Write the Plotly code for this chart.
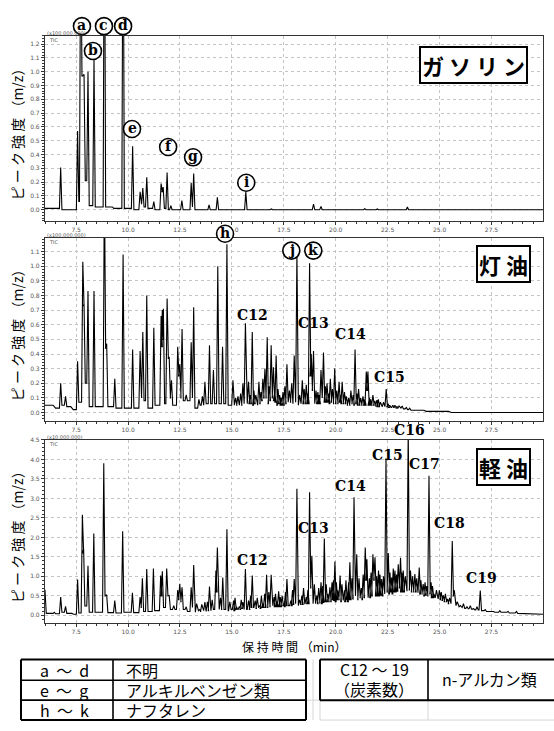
import plotly.graph_objects as go

W, H = 554, 731

# ---------------- chromatogram data (retention time [min], intensity, valley level after peak)
GAS_START, GAS_END = 0.01, 0.0
GAS_T = [6.755, 7.57, 7.72, 7.88, 8.07, 8.36, 8.86, 9.25, 9.76, 10.22, 10.58, 10.71, 10.90,
         11.24, 11.59, 11.69, 11.88, 12.06, 12.59, 13.04, 13.16, 13.90, 14.30, 15.67, 16.9,
         18.93, 19.29, 21.4, 22.0, 23.45]
GAS_H = [0.306, 0.571, 2.2, 0.98, 1.00, 1.09, 2.6, 0.02, 2.6, 0.46, 0.13, 0.157, 0.236,
         0.06, 0.19, 0.164, 0.27, 0.03, 0.067, 0.193, 0.263, 0.036, 0.09, 0.128, 0.006,
         0.04, 0.025, 0.008, 0.006, 0.02]
GAS_V = [0.0, 0.06, 0.97, 0.21, 0.03, 0.02, 0.02, 0.01, 0.01, 0.0, 0.04, 0.02, 0.01,
         0.0, 0.13, 0.01, 0.0, 0.0, 0.0, 0.02, 0.0, 0.0, 0.0, 0.0, 0.0,
         0.0, 0.0, 0.0, 0.0, 0.0]

KER_START, KER_END = 0.05, 0.0
KER_T = [6.45, 6.755, 6.99, 7.30, 7.57, 7.82, 7.88, 8.07, 8.36, 8.86, 8.97, 9.36, 9.76,
         10.22, 10.58, 10.71, 10.90, 11.24, 11.59, 11.65, 11.70, 11.88, 11.98, 12.09,
         12.39, 12.49, 12.60, 12.80, 13.04, 13.16, 13.41, 13.58, 13.70, 13.92, 14.11,
         14.32, 14.55, 14.76, 15.05, 15.29, 15.53, 15.65, 15.80, 15.98, 16.15, 16.30,
         16.49, 16.59, 16.70, 16.89, 17.00, 17.13, 17.30, 17.46, 17.65, 17.77, 18.00,
         18.13, 18.26, 18.39, 18.58, 18.74, 18.82, 18.93, 19.14, 19.29, 19.41, 19.58,
         19.74, 19.95, 20.16, 20.31, 20.51, 20.73, 20.93, 21.10, 21.31, 21.47, 21.55,
         21.68, 21.79, 21.98, 22.15, 22.43, 22.60, 22.75, 22.95, 23.20, 23.40, 23.56,
         24.3, 25.5]
KER_H = [0.04, 0.20, 0.11, 0.03, 0.35, 1.03, 0.74, 0.83, 0.83, 1.6, 0.47, 0.23, 1.08,
         0.43, 0.42, 0.55, 0.80, 0.58, 0.66, 0.70, 0.71, 0.78, 0.38, 0.22,
         0.45, 0.33, 0.57, 0.12, 0.48, 0.72, 0.09, 0.11, 0.21, 0.46, 0.29,
         1.00, 0.45, 1.15, 0.22, 0.11, 0.20, 0.61, 0.21, 0.55, 0.12, 0.21,
         0.23, 0.30, 0.515, 0.46, 0.31, 0.39, 0.12, 0.14, 0.33, 0.15, 0.39,
         1.09, 0.12, 0.22, 0.19, 1.02, 0.40, 0.42, 0.14, 0.29, 0.41, 0.20,
         0.23, 0.30, 0.21, 0.21, 0.11, 0.15, 0.43, 0.16, 0.11, 0.28, 0.28,
         0.09, 0.12, 0.085, 0.07, 0.16, 0.05, 0.05, 0.04, 0.045, 0.035, 0.03,
         0.012, 0.004]
KER_V = [0.03, 0.05, 0.04, 0.02, 0.07, 0.73, 0.20, 0.04, 0.04, 0.44, 0.04, 0.03, 0.03,
         0.03, 0.10, 0.08, 0.03, 0.05, 0.45, 0.50, 0.06, 0.37, 0.10, 0.05,
         0.25, 0.10, 0.08, 0.08, 0.10, 0.03, 0.05, 0.05, 0.06, 0.06, 0.06,
         0.06, 0.06, 0.05, 0.05, 0.05, 0.06, 0.06, 0.06, 0.05, 0.05, 0.06,
         0.10, 0.10, 0.06, 0.10, 0.08, 0.05, 0.05, 0.05, 0.07, 0.07, 0.07,
         0.05, 0.06, 0.06, 0.06, 0.25, 0.15, 0.06, 0.06, 0.10, 0.07, 0.07,
         0.07, 0.06, 0.07, 0.06, 0.05, 0.06, 0.06, 0.05, 0.05, 0.15, 0.05,
         0.05, 0.05, 0.04, 0.04, 0.04, 0.035, 0.035, 0.03, 0.025, 0.02, 0.015,
         0.008, 0.0]
# small unresolved peaks of the kerosene hump
KER_MINOR_T = [15.18, 15.42, 15.88, 16.06, 16.40, 16.80, 17.06, 17.22, 17.38, 17.55,
               17.88, 18.48, 18.66, 19.05, 19.20, 19.50, 19.66, 19.84, 20.05, 20.23,
               20.42, 20.62, 20.84, 21.02, 21.20, 21.40, 21.62, 21.88, 22.05, 22.30,
               22.52, 22.85, 23.05]
KER_MINOR_H = [0.10, 0.13, 0.12, 0.15, 0.14, 0.18, 0.14, 0.16, 0.10, 0.18,
               0.20, 0.16, 0.13, 0.15, 0.12, 0.18, 0.13, 0.16, 0.15, 0.12,
               0.14, 0.10, 0.12, 0.13, 0.10, 0.09, 0.10, 0.08, 0.09, 0.07,
               0.06, 0.05, 0.045]
KER_MINOR_V = [0.05, 0.05, 0.06, 0.06, 0.08, 0.08, 0.07, 0.06, 0.05, 0.06,
               0.06, 0.06, 0.06, 0.06, 0.06, 0.07, 0.06, 0.06, 0.06, 0.06,
               0.06, 0.05, 0.05, 0.05, 0.05, 0.05, 0.05, 0.045, 0.04, 0.04,
               0.035, 0.03, 0.03]

DSL_START, DSL_END = 0.64, 0.03
DSL_T = [6.0, 6.45, 6.755, 6.99, 7.30, 7.57, 7.80, 7.86, 8.07, 8.35, 8.83, 8.97, 9.36,
         9.74, 10.21, 10.58, 10.69, 10.90, 11.22, 11.57, 11.65, 11.86, 11.98, 12.20,
         12.39, 12.49, 12.60, 12.80, 13.04, 13.16, 13.45, 13.70, 13.92, 14.23, 14.30,
         14.56, 14.76, 15.08, 15.22, 15.36, 15.53, 15.65, 15.80, 15.98, 16.12, 16.33,
         16.49, 16.67, 16.89, 17.03, 17.18, 17.33, 17.50, 17.65, 17.84, 18.00, 18.13,
         18.26, 18.37, 18.58, 18.74, 18.85, 19.09, 19.29, 19.45, 19.62, 19.82, 19.96,
         20.10, 20.21, 20.42, 20.55, 20.68, 20.88, 21.01, 21.23, 21.42, 21.50, 21.62,
         21.79, 21.89, 22.06, 22.21, 22.42, 22.53, 22.69, 22.85, 23.01, 23.12, 23.25,
         23.49, 23.60, 23.81, 24.02, 24.21, 24.49, 24.59, 24.73, 24.99, 25.18, 25.38,
         25.61, 25.71, 26.00, 26.32, 26.64, 26.96, 27.6, 28.7]
DSL_H = [0.64, 0.08, 0.47, 0.23, 0.05, 0.92, 2.58, 1.71, 1.27, 2.10, 3.90, 0.53, 0.38,
         2.16, 0.58, 0.47, 0.95, 1.19, 1.20, 1.02, 1.13, 1.20, 0.51, 0.25,
         0.65, 0.81, 0.72, 0.22, 0.72, 1.29, 0.15, 0.34, 0.74, 1.15, 1.74,
         0.97, 2.21, 0.38, 0.22, 0.23, 0.34, 1.19, 0.38, 1.02, 0.38, 0.25,
         0.30, 1.04, 1.04, 0.47, 0.35, 0.47, 0.30, 0.93, 0.38, 0.93, 3.25,
         0.40, 0.51, 0.47, 3.16, 1.53, 0.51, 0.85, 1.97, 0.55, 0.85, 1.38,
         0.64, 1.02, 0.64, 0.55, 1.36, 3.03, 1.57, 0.70, 1.74, 1.44, 0.95,
         1.57, 1.49, 1.15, 0.93, 4.03, 1.60, 0.97, 1.15, 1.31, 1.48, 1.15,
         4.80, 1.15, 1.06, 1.23, 0.80, 3.58, 0.85, 0.55, 0.64, 0.51, 0.42,
         1.91, 0.64, 0.25, 0.22, 0.17, 0.64, 0.10, 0.10]
DSL_V = [0.05, 0.04, 0.08, 0.05, 0.03, 0.06, 1.60, 0.24, 0.08, 0.08, 0.50, 0.07, 0.06,
         0.08, 0.07, 0.20, 0.10, 0.10, 0.12, 0.50, 0.20, 0.50, 0.15, 0.15,
         0.40, 0.35, 0.15, 0.10, 0.20, 0.08, 0.10, 0.10, 0.12, 0.60, 0.15,
         0.15, 0.12, 0.12, 0.15, 0.15, 0.15, 0.15, 0.15, 0.20, 0.18, 0.18,
         0.20, 0.20, 0.25, 0.22, 0.22, 0.22, 0.22, 0.25, 0.25, 0.30, 0.25,
         0.28, 0.28, 0.30, 0.70, 0.30, 0.30, 0.30, 0.35, 0.35, 0.40, 0.35,
         0.40, 0.35, 0.35, 0.35, 0.40, 0.50, 0.40, 0.40, 0.90, 0.45, 0.45,
         0.90, 0.50, 0.50, 0.50, 0.60, 0.55, 0.55, 0.60, 0.70, 0.60, 0.60,
         0.65, 0.60, 0.60, 0.55, 0.50, 0.55, 0.45, 0.45, 0.40, 0.35, 0.30,
         0.50, 0.25, 0.20, 0.17, 0.14, 0.12, 0.08, 0.05]
# small unresolved peaks riding on the diesel hump
DSL_MINOR_T = [13.30, 13.55, 13.82, 14.05, 14.45, 14.90, 15.15, 15.45, 15.90, 16.22,
               16.42, 16.58, 16.78, 17.10, 17.25, 17.42, 17.58, 17.92, 18.45, 18.66,
               18.97, 19.18, 19.37, 19.54, 19.72, 19.89, 20.03, 20.30, 20.49, 20.62,
               20.78, 21.12, 21.32, 21.70, 21.97, 22.13, 22.30, 22.61, 22.77, 22.93,
               23.18, 23.35, 23.70, 23.90, 24.10, 24.30, 24.38, 24.66, 24.85, 25.08,
               25.28, 25.48, 25.85, 26.15, 26.48, 26.80, 27.2, 27.9, 28.3]
DSL_MINOR_H = [0.30, 0.28, 0.35, 0.40, 0.45, 0.35, 0.45, 0.40, 0.50, 0.45,
               0.50, 0.55, 0.60, 0.55, 0.62, 0.50, 0.60, 0.65, 0.70, 0.65,
               0.80, 0.70, 0.75, 0.80, 0.72, 0.90, 0.85, 0.80, 0.90, 0.85,
               0.95, 0.95, 1.05, 1.10, 1.00, 1.05, 1.00, 1.10, 1.20, 1.05,
               1.10, 1.00, 1.00, 0.95, 0.90, 0.85, 0.75, 0.75, 0.65, 0.60,
               0.55, 0.45, 0.35, 0.30, 0.25, 0.22, 0.15, 0.12, 0.10]
DSL_MINOR_V = [0.12, 0.12, 0.12, 0.15, 0.15, 0.15, 0.15, 0.18, 0.20, 0.20,
               0.20, 0.20, 0.22, 0.22, 0.22, 0.25, 0.25, 0.28, 0.30, 0.30,
               0.30, 0.32, 0.33, 0.35, 0.35, 0.38, 0.40, 0.38, 0.40, 0.40,
               0.42, 0.45, 0.45, 0.50, 0.50, 0.52, 0.55, 0.60, 0.60, 0.62,
               0.60, 0.62, 0.60, 0.58, 0.55, 0.52, 0.50, 0.45, 0.42, 0.38,
               0.35, 0.30, 0.22, 0.18, 0.16, 0.14, 0.10, 0.08, 0.06]

X_RANGE = [6.0, 29.98]
PEAK_HALF_WIDTH = 0.06

# panel geometry in page pixels (top, bottom) and intensity ranges
PLOT_LEFT, PLOT_RIGHT = 45, 543
PANEL_Y = [(32, 218), (235, 419), (438, 622)]
Y_RANGES = [[-0.08, 1.26], [-0.056, 1.195], [-0.186, 4.51]]
Y_DTICK = [0.1, 0.1, 0.5]
Y_MINOR = [0.02, 0.02, 0.1]


def chromatogram(t, h, v, start, end):
    """Polyline through baseline -> apex -> valley for every peak (peaks sorted by time)."""
    peaks = sorted(zip(t, h, v))
    xs, ys, prev = [X_RANGE[0]], [start], start
    for ti, hi, vi in peaks:
        xs += [ti - PEAK_HALF_WIDTH, ti, ti + PEAK_HALF_WIDTH]
        ys += [prev, hi, vi]
        prev = vi
    xs.append(X_RANGE[1])
    ys.append(end)
    return xs, ys


def px(x):
    return x / W


def py(y):
    return 1 - y / H


def data_to_paper(t, val, panel):
    """Map (time, intensity) of a panel to paper coordinates."""
    top, bot = PANEL_Y[panel]
    y0, y1 = Y_RANGES[panel]
    xpix = PLOT_LEFT + (t - X_RANGE[0]) / (X_RANGE[1] - X_RANGE[0]) * (PLOT_RIGHT - PLOT_LEFT)
    ypix = bot - (val - y0) / (y1 - y0) * (bot - top)
    return px(xpix), py(ypix)


fig = go.Figure()

panels = [
    (GAS_T, GAS_H, GAS_V, GAS_START, GAS_END, "x", "y"),
    (KER_T + KER_MINOR_T, KER_H + KER_MINOR_H, KER_V + KER_MINOR_V, KER_START, KER_END, "x2", "y2"),
    (DSL_T + DSL_MINOR_T, DSL_H + DSL_MINOR_H, DSL_V + DSL_MINOR_V, DSL_START, DSL_END, "x3", "y3"),
]
for t, h, v, s, e, xa, ya in panels:
    xs, ys = chromatogram(t, h, v, s, e)
    fig.add_trace(go.Scatter(x=xs, y=ys, mode="lines", xaxis=xa, yaxis=ya,
                             line=dict(color="black", width=1.1), hoverinfo="skip",
                             showlegend=False))

annotations = []
shapes = []

# ---------------- circled peak letters
LETTERS = [
    ("a", 7.78, 1.33, 0), ("c", 8.84, 1.33, 0), ("d", 9.76, 1.33, 0),
    ("b", 8.31, 1.15, 0), ("e", 10.19, 0.585, 0), ("f", 11.93, 0.455, 0),
    ("g", 13.13, 0.38, 0), ("i", 15.69, 0.196, 0),
    ("h", 14.67, 1.222, 1), ("j", 17.86, 1.107, 1), ("k", 18.92, 1.107, 1),
]
R = 8.5
for lab, lx, ly, pnl in LETTERS:
    ax, ay = data_to_paper(lx, ly, pnl)
    shapes.append(dict(type="circle", xref="paper", yref="paper", xsizemode="pixel",
                       ysizemode="pixel", xanchor=ax, yanchor=ay, x0=-R, x1=R, y0=-R, y1=R,
                       fillcolor="white", line=dict(color="black", width=1.6), layer="above"))
    annotations.append(dict(x=ax, y=ay, xref="paper", yref="paper", text=lab, showarrow=False,
                            xanchor="center", yanchor="middle", yshift=1,
                            font=dict(family="DejaVu Serif", size=14, color="black", weight="bold")))

# ---------------- n-alkane labels
ALKANES = [
    ("C12", 15.98, 0.67, 1), ("C13", 18.92, 0.615, 1),
    ("C14", 20.70, 0.535, 1), ("C15", 22.58, 0.243, 1),
    ("C12", 15.98, 1.42, 2), ("C13", 18.92, 2.24, 2),
    ("C14", 20.70, 3.33, 2), ("C15", 22.48, 4.12, 2),
    ("C16", 23.54, 4.76, 2), ("C17", 24.27, 3.89, 2),
    ("C18", 25.47, 2.37, 2), ("C19", 27.01, 0.97, 2),
]
for lab, lx, ly, pnl in ALKANES:
    ax, ay = data_to_paper(lx, ly, pnl)
    annotations.append(dict(x=ax, y=ay, xref="paper", yref="paper", text=lab, showarrow=False,
                            xanchor="center", yanchor="middle",
                            font=dict(family="DejaVu Serif", size=14, color="black", weight="bold")))

# ---------------- axes
TICK_FONT = dict(family="DejaVu Sans", size=6, color="#555")
layout_axes = {}
for i, ((top, bot), yr, dt, mn) in enumerate(zip(PANEL_Y, Y_RANGES, Y_DTICK, Y_MINOR)):
    sfx = "" if i == 0 else str(i + 1)
    layout_axes["xaxis" + sfx] = dict(
        domain=[px(PLOT_LEFT), px(PLOT_RIGHT)], range=X_RANGE, anchor="y" + sfx,
        tickmode="linear", tick0=7.5, dtick=2.5,
        tickformat=".1f", ticks="outside", ticklen=3, tickcolor="#333", tickfont=TICK_FONT,
        showgrid=True, gridcolor="#c4c4c4", griddash="dot", gridwidth=1,
        showline=True, linecolor="#333", linewidth=1.2, mirror=True, zeroline=False,
        minor=dict(tick0=6.0, dtick=0.5, ticks="outside", ticklen=2, tickcolor="#333", showgrid=False),
        fixedrange=True)
    layout_axes["yaxis" + sfx] = dict(
        domain=[py(bot), py(top)], range=yr, anchor="x" + sfx, tickmode="linear", tick0=0, dtick=dt,
        tickformat=".1f", ticks="outside", ticklen=3, tickcolor="#333", tickfont=TICK_FONT,
        showgrid=True, gridcolor="#c4c4c4", griddash="dot", gridwidth=1,
        showline=True, linecolor="#333", linewidth=1.2, mirror=True, zeroline=False,
        minor=dict(tick0=0, dtick=mn, ticks="outside", ticklen=2, tickcolor="#333", showgrid=False),
        fixedrange=True)

# scale factor / detector captions above each panel
for (top, _), cap in zip(PANEL_Y, ["(x100,000,000)", "(x100,000,000)", "(x10,000,000)"]):
    annotations.append(dict(x=px(45), y=py(top - 3), xref="paper", yref="paper", text=cap,
                            showarrow=False, xanchor="left", yanchor="middle",
                            font=dict(family="DejaVu Sans", size=5, color="#555")))
    annotations.append(dict(x=px(47), y=py(top + 4), xref="paper", yref="paper", text="TIC",
                            showarrow=False, xanchor="left", yanchor="middle",
                            font=dict(family="DejaVu Sans", size=5, color="#555")))

# y-axis titles
for top, bot in PANEL_Y:
    annotations.append(dict(x=px(17), y=py((top + bot) / 2 + 3), xref="paper", yref="paper",
                            text="ピ ー ク 強 度 （m/z）", textangle=-90, showarrow=False,
                            xanchor="center", yanchor="middle",
                            font=dict(family="Noto Sans CJK JP", size=14, color="black")))

# x-axis title
annotations.append(dict(x=px(294), y=py(646), xref="paper", yref="paper",
                        text="保 持 時 間 （min）", showarrow=False,
                        xanchor="center", yanchor="middle",
                        font=dict(family="Noto Sans CJK JP", size=12, color="black")))

# sample names in boxes
for name, cx, cy in [("ガ ソ リ ン", 474, 61), ("灯 油", 503, 261), ("軽 油", 503, 466)]:
    annotations.append(dict(x=px(cx), y=py(cy), xref="paper", yref="paper", text=name,
                            showarrow=False, bgcolor="white", bordercolor="black", borderwidth=2,
                            borderpad=1, xanchor="center", yanchor="middle",
                            font=dict(family="Noto Sans CJK JP", size=22, color="black", weight="bold")))

# ---------------- legend table


def hline(x0, x1, y, color="black", width=1.6):
    shapes.append(dict(type="line", xref="paper", yref="paper", x0=px(x0), x1=px(x1),
                       y0=py(y), y1=py(y), line=dict(color=color, width=width)))


def vline(x, y0, y1, color="black", width=1.6):
    shapes.append(dict(type="line", xref="paper", yref="paper", x0=px(x), x1=px(x),
                       y0=py(y0), y1=py(y1), line=dict(color=color, width=width)))


GREY = "#d6d6d6"
hline(306, 320, 700, GREY, 1)
vline(313, 659, 720, GREY, 1)
hline(320, 554, 720, GREY, 1)
vline(428, 700, 720, GREY, 1)
vline(320, 700, 720, GREY, 1)

hline(21, 306, 659, width=2)
hline(21, 306, 680)
hline(21, 306, 700)
hline(21, 306, 720, width=2)
vline(21, 659, 720, width=2)
vline(306, 659, 720, width=2)
vline(113, 659, 720)

hline(320, 556, 659, width=2)
hline(320, 556, 700, width=2)
vline(320, 659, 700, width=2)
vline(428, 659, 700)

NB = "\u00a0"
TABLE_FONT = dict(family="Noto Sans CJK JP", size=16, color="black")
rows = [(f"a{NB}{NB}～{NB}{NB}d", "不明", 669.5),
        (f"e{NB}{NB}～{NB}{NB}g", "アルキルベンゼン類", 690),
        (f"h{NB}{NB}～{NB}{NB}k", "ナフタレン", 710)]
for key, desc, yc in rows:
    annotations.append(dict(x=px(64), y=py(yc), xref="paper", yref="paper", text=key,
                            showarrow=False, xanchor="center", yanchor="middle", font=TABLE_FONT))
    annotations.append(dict(x=px(124), y=py(yc), xref="paper", yref="paper", text=desc,
                            showarrow=False, xanchor="left", yanchor="middle", font=TABLE_FONT))
annotations.append(dict(x=px(374), y=py(669), xref="paper", yref="paper",
                        text=f"C12{NB}～{NB}19",
                        showarrow=False, xanchor="center", yanchor="middle", font=TABLE_FONT))
annotations.append(dict(x=px(374), y=py(689), xref="paper", yref="paper", text="（炭素数）",
                        showarrow=False, xanchor="center", yanchor="middle", font=TABLE_FONT))
annotations.append(dict(x=px(440), y=py(679), xref="paper", yref="paper", text="n-アルカン類",
                        showarrow=False, xanchor="left", yanchor="middle", font=TABLE_FONT))

fig.update_layout(
    width=W, height=H, margin=dict(l=0, r=0, t=0, b=0),
    paper_bgcolor="white", plot_bgcolor="white",
    showlegend=False, annotations=annotations, shapes=shapes,
    **layout_axes,
)

fig.write_html("out.html")
